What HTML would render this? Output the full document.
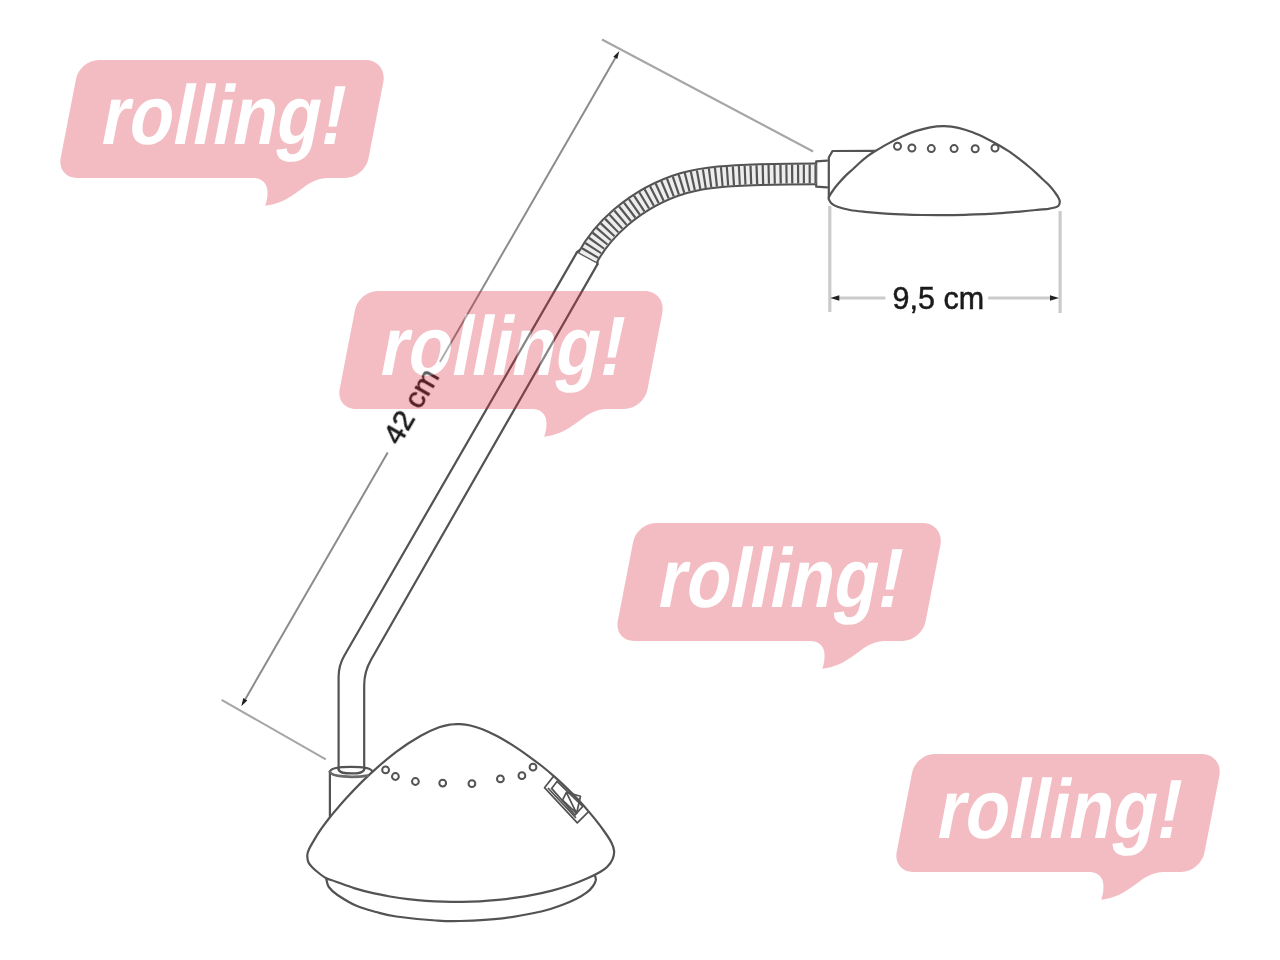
<!DOCTYPE html>
<html><head><meta charset="utf-8"><title>lamp</title>
<style>
html,body{margin:0;padding:0;background:#fff;}
body{width:1280px;height:960px;overflow:hidden;position:relative;font-family:"Liberation Sans",sans-serif;}
svg{position:absolute;left:0;top:0;display:block;}
text{font-family:"Liberation Sans",sans-serif;}
</style></head><body>
<svg width="1280" height="960" viewBox="0 0 1280 960">
<defs><filter id="b" filterUnits="userSpaceOnUse" x="0" y="0" width="1280" height="960"><feGaussianBlur stdDeviation="0.7"/></filter></defs>
<rect width="1280" height="960" fill="#fff"/>
<g fill="none" stroke="#525252" stroke-width="2.2" stroke-linecap="round" stroke-linejoin="round" filter="url(#b)">
<path d="M307.3,855.2 C307.4,853.0 308.0,851.4 309.1,849.0 C310.2,846.6 311.8,843.9 313.8,840.6 C315.7,837.3 318.1,833.3 321.0,829.2 C323.9,825.1 326.7,821.2 330.9,816.0 C335.2,810.8 340.0,804.9 346.4,797.9 C352.9,791.0 361.4,782.0 369.7,774.4 C378.0,766.7 387.7,758.2 396.2,751.8 C404.7,745.4 413.6,739.8 420.8,735.7 C428.0,731.6 434.1,729.2 439.1,727.3 C444.2,725.5 447.3,725.1 450.9,724.5 C454.4,724.0 457.0,724.0 460.2,724.2 C463.5,724.4 466.6,724.7 470.3,725.5 C474.0,726.4 477.9,727.5 482.4,729.2 C486.8,731.0 491.9,733.3 496.9,735.9 C501.9,738.5 507.3,741.8 512.5,745.1 C517.7,748.4 523.1,752.2 528.1,755.8 C533.1,759.4 537.9,763.0 542.4,766.5 C546.8,770.0 550.6,773.2 554.7,776.9 C558.8,780.5 563.0,784.5 567.0,788.4 C571.0,792.3 575.0,796.4 578.5,800.1 C582.0,803.9 584.9,807.1 587.9,810.6 C590.9,814.1 593.8,817.5 596.6,821.1 C599.4,824.6 602.2,828.4 604.7,832.0 C607.2,835.6 609.9,839.5 611.5,842.7 C613.1,845.9 613.9,848.2 614.1,851.0 C614.3,853.8 613.6,856.8 612.5,859.4 C611.4,862.0 609.3,864.7 607.3,866.7 C605.3,868.8 603.7,869.8 600.5,871.7 C597.3,873.6 593.1,875.8 588.0,878.0 C582.9,880.3 576.0,883.1 570.0,885.2 C564.0,887.2 558.0,889.0 552.0,890.6 C546.0,892.1 540.0,893.5 534.0,894.7 C528.0,895.9 522.0,896.9 516.0,897.7 C510.0,898.6 504.0,899.3 498.0,899.9 C492.0,900.5 486.0,901.0 480.0,901.3 C474.0,901.6 468.0,901.8 462.0,901.9 C456.0,902.0 450.0,901.9 444.0,901.7 C438.0,901.5 432.0,901.2 426.0,900.8 C420.0,900.4 414.0,899.8 408.0,899.1 C402.0,898.4 396.0,897.5 390.0,896.5 C384.0,895.4 378.0,894.3 372.0,892.9 C366.0,891.5 360.0,889.9 354.0,888.1 C348.0,886.2 340.6,883.3 336.0,881.7 C331.4,880.0 328.9,879.5 326.2,878.2 C323.6,876.9 322.3,875.8 320.0,874.0 C317.7,872.2 314.6,869.6 312.7,867.7 C310.8,865.8 309.4,864.6 308.5,862.5 C307.6,860.4 307.2,857.5 307.3,855.2"/>
<path d="M326.2,878.6 C326.7,880.0 326.9,884.3 328.8,887.0 C330.7,889.7 332.9,891.9 337.5,895.0 C342.1,898.1 350.0,903.0 356.4,905.8 C362.8,908.6 369.4,910.2 376.0,912.0 C382.6,913.8 386.2,915.1 396.2,916.5 C406.2,917.9 425.5,919.8 436.1,920.5 C446.7,921.2 448.9,921.4 460.0,921.0 C471.1,920.6 488.8,919.9 502.5,918.3 C516.2,916.7 532.4,913.4 542.3,911.2 C552.2,909.0 556.4,907.0 562.0,905.0 C567.6,903.0 571.9,901.0 576.0,899.0 C580.1,897.0 583.7,894.8 586.5,892.7 C589.3,890.6 591.2,888.6 592.7,886.5 C594.2,884.4 595.4,882.1 595.8,880.2 C596.1,878.3 595.0,875.9 594.8,875.0"/>
<path d="M329.9,771.5 L329.9,816.5"/>
<path d="M329.9,771.8 C330.5,767.6 343,766.8 351,766.8 C362,766.8 371.3,768.2 372,771.2"/>
<path d="M329.9,771.8 C331,776.6 352,778.2 367.5,775.6" stroke-width="2.8" stroke="#6a6a6a"/>
<path d="M338.6,769.5 C340,773.3 345,773.4 351.4,773.4 C358,773.4 363,773.3 364.2,769.5"/>
<path d="M338.6,769.5 L338.6,677 Q338.6,665.4 344.4,655.5 L576.9,252.4"/>
<path d="M364.2,769.5 L364.2,685 Q364.2,671.9 370.9,660 L597.5,264.1"/>
<path d="M576.9,252.4 C580,248.5 586,249 590,252 C595,255.5 598,260 597.5,264.1"/>
<path d="M828.9,197.2 C829.6,195.5 831.4,192.6 833.3,190.0 C835.1,187.4 837.8,184.3 840.0,181.7 C842.2,179.1 844.5,176.8 846.7,174.6 C848.9,172.4 851.1,170.8 853.3,168.8 C855.5,166.7 857.8,164.5 860.0,162.5 C862.2,160.5 864.4,158.7 866.7,156.9 C869.1,155.1 870.5,154.0 874.1,151.8 C877.7,149.6 883.5,146.1 888.1,143.6 C892.8,141.0 897.5,138.6 902.2,136.5 C906.9,134.3 911.6,132.4 916.3,130.9 C921.0,129.4 925.6,128.1 930.3,127.3 C935.0,126.5 939.7,126.1 944.4,126.2 C949.1,126.3 953.7,126.8 958.4,127.8 C963.1,128.9 967.9,130.5 972.6,132.3 C977.3,134.1 982.3,136.5 986.8,138.7 C991.3,140.9 995.8,143.4 999.8,145.7 C1003.7,148.0 1007.1,150.2 1010.4,152.3 C1013.6,154.5 1016.3,156.6 1019.2,158.8 C1022.0,160.9 1024.7,163.2 1027.5,165.5 C1030.3,167.8 1033.1,170.2 1035.7,172.6 C1038.3,175.0 1040.8,177.4 1043.2,179.7 C1045.6,181.9 1048.0,184.1 1050.0,186.2 C1052.0,188.4 1053.6,190.6 1055.0,192.5 C1056.4,194.4 1057.5,196.0 1058.3,197.5 C1059.1,199.0 1059.8,200.3 1059.8,201.7 C1059.8,203.0 1059.4,204.6 1058.6,205.6 C1057.8,206.6 1056.7,207.0 1055.0,207.5 C1053.3,208.0 1051.5,208.3 1048.3,208.8 C1045.1,209.2 1040.1,209.6 1035.8,210.0 C1031.5,210.4 1027.1,210.9 1022.3,211.3 C1017.4,211.8 1012.2,212.3 1006.7,212.7 C1001.2,213.2 995.5,213.5 989.2,213.9 C982.9,214.2 976.1,214.4 968.8,214.6 C961.4,214.9 952.7,215.0 945.0,215.1 C937.3,215.2 929.6,215.1 922.5,215.0 C915.4,214.9 909.1,214.7 902.5,214.4 C895.8,214.1 888.7,213.8 882.5,213.3 C876.2,212.9 870.4,212.4 865.0,211.8 C859.6,211.3 854.6,210.9 850.0,210.0 C845.4,209.1 840.6,207.8 837.5,206.7 C834.4,205.6 832.8,204.4 831.4,203.3 C830.0,202.2 829.6,201.0 829.2,200.0 C828.8,199.0 828.2,198.9 828.9,197.2"/>
<path d="M828.8,197 L828.8,157.5 L832.5,151 L875,150.9"/>
<path d="M816.2,161.3 L827,160.6 M816.2,186.7 L827,187.4 M816.2,161.3 L816.2,186.7"/>
</g>
<g fill="none" stroke="#525252" stroke-width="2" filter="url(#b)">
<circle cx="897.5" cy="146.3" r="3.5"/>
<circle cx="911.9" cy="148" r="3.5"/>
<circle cx="931.3" cy="148.6" r="3.5"/>
<circle cx="954.1" cy="148.6" r="3.5"/>
<circle cx="975.2" cy="148.8" r="3.5"/>
<circle cx="995" cy="148" r="3.5"/>
<circle cx="385.6" cy="769.9" r="3.4"/>
<circle cx="395.4" cy="776.5" r="3.4"/>
<circle cx="415.4" cy="781.5" r="3.4"/>
<circle cx="442.7" cy="783.1" r="3.4"/>
<circle cx="471.9" cy="783.7" r="3.4"/>
<circle cx="500.4" cy="778.9" r="3.4"/>
<circle cx="521.9" cy="775.7" r="3.4"/>
<circle cx="533" cy="767.2" r="3.4"/>
</g>
<g fill="none" stroke="#525252" stroke-width="1.7" stroke-linejoin="round" filter="url(#b)">
<path d="M553.9,775.9 L544.5,787.7 L577.3,822.8 L589.1,811.1"/>
<path d="M557,781.4 L551.6,788.4 L575,815 L582.8,806.4 Z"/>
<path d="M566.4,792.3 L580.5,796.25 L576.6,813.4 L562.5,800.2 Z M566.4,792.3 L576.6,813.4 M548,788 L576,818"/>
</g>
<g fill="none" filter="url(#b)">
<path d="M587.2,258.3 C596,242 606,230 620.9,217.3 C640,201 660,190 684,183 C706,176.8 730,175.6 760,174.6 C785,174 800,173.9 816.2,173.9" stroke="#525252" stroke-width="22.9"/>
<path d="M587.2,258.3 C596,242 606,230 620.9,217.3 C640,201 660,190 684,183 C706,176.8 730,175.6 760,174.6 C785,174 800,173.9 816.2,173.9" stroke="#ededed" stroke-width="18.9"/>
<path d="M587.2,258.3 C596,242 606,230 620.9,217.3 C640,201 660,190 684,183 C706,176.8 730,175.6 760,174.6 C785,174 800,173.9 816.2,173.9" stroke="#555" stroke-width="18.9" stroke-dasharray="2.2 3.66" stroke-dashoffset="1"/>
</g>
<g fill="none" stroke="#cbcbcb" stroke-width="3.2" filter="url(#b)">
<path d="M829.8,206 L829.8,312 M1060.1,211 L1060.1,313"/>
<path d="M839,298 L885.4,298 M988.2,298 L1050,298"/>
</g>
<g fill="#222" filter="url(#b)"><path d="M830.3,298.0 L839.3,295.2 L839.3,300.8 Z M1059.0,298.0 L1050.0,300.8 L1050.0,295.2 Z"/></g>
<g fill="none" stroke="#a6a6a6" stroke-width="2.1" filter="url(#b)">
<path d="M602,39.5 L813.1,151.5 M221.6,699.8 L325.8,759.4"/>
</g>
<g fill="none" stroke="#8c8c8c" stroke-width="2" filter="url(#b)">
<path d="M243.3,702.7 L387.7,452.5 M439.9,362 L617.3,54.5"/>
</g>
<g fill="#222" filter="url(#b)"><path d="M241.3,706.2 L243.3,698.1 L247.3,700.4 Z M619.3,51.0 L617.3,59.1 L613.3,56.8 Z"/></g>
<g filter="url(#b)" fill="#1a1a1a" stroke="#1a1a1a" stroke-width="0.5">
<text x="938.3" y="308.6" font-size="30.5" text-anchor="middle">9,5 cm</text>
<text transform="translate(410.2,405.8) rotate(-60)" x="0" y="10.8" font-size="30" text-anchor="middle">42 cm</text>
</g>
<g transform="translate(0,0)" opacity="0.3"><path d="M250,176 L253.9,177.9 C260,178 265.5,181.5 267,188 C268,193.5 267.5,199 265.2,205.8 C278,204.3 288.5,198.6 297,192.2 C306.5,185 314,178.8 327,177.9 L330,176 Z" fill="#da2638"/><g transform="translate(0,143.9) skewX(-11)"><path d="M82.4,-83.9 L349.3,-83.9 C361.4506,-83.9 371.3,-74.0506 371.3,-61.900000000000006 L371.3,14.5 C371.3,25.269849999999998 362.56985000000003,34.0 351.8,34.0 L83.4,34.0 C72.35400000000001,34.0 63.4,25.046 63.4,14.0 L63.4,-64.9 C63.4,-75.39370000000001 71.9063,-83.9 82.4,-83.9 Z" fill="#da2638"/><text x="97.9" y="0" font-size="84" font-weight="bold" fill="#fff" textLength="243.2" lengthAdjust="spacingAndGlyphs">rolling!</text></g></g>
<g transform="translate(279,231)" opacity="0.3"><path d="M250,176 L253.9,177.9 C260,178 265.5,181.5 267,188 C268,193.5 267.5,199 265.2,205.8 C278,204.3 288.5,198.6 297,192.2 C306.5,185 314,178.8 327,177.9 L330,176 Z" fill="#da2638"/><g transform="translate(0,143.9) skewX(-11)"><path d="M82.4,-83.9 L349.3,-83.9 C361.4506,-83.9 371.3,-74.0506 371.3,-61.900000000000006 L371.3,14.5 C371.3,25.269849999999998 362.56985000000003,34.0 351.8,34.0 L83.4,34.0 C72.35400000000001,34.0 63.4,25.046 63.4,14.0 L63.4,-64.9 C63.4,-75.39370000000001 71.9063,-83.9 82.4,-83.9 Z" fill="#da2638"/><text x="97.9" y="0" font-size="84" font-weight="bold" fill="#fff" textLength="243.2" lengthAdjust="spacingAndGlyphs">rolling!</text></g></g>
<g transform="translate(557.1,463)" opacity="0.3"><path d="M250,176 L253.9,177.9 C260,178 265.5,181.5 267,188 C268,193.5 267.5,199 265.2,205.8 C278,204.3 288.5,198.6 297,192.2 C306.5,185 314,178.8 327,177.9 L330,176 Z" fill="#da2638"/><g transform="translate(0,143.9) skewX(-11)"><path d="M82.4,-83.9 L349.3,-83.9 C361.4506,-83.9 371.3,-74.0506 371.3,-61.900000000000006 L371.3,14.5 C371.3,25.269849999999998 362.56985000000003,34.0 351.8,34.0 L83.4,34.0 C72.35400000000001,34.0 63.4,25.046 63.4,14.0 L63.4,-64.9 C63.4,-75.39370000000001 71.9063,-83.9 82.4,-83.9 Z" fill="#da2638"/><text x="97.9" y="0" font-size="84" font-weight="bold" fill="#fff" textLength="243.2" lengthAdjust="spacingAndGlyphs">rolling!</text></g></g>
<g transform="translate(836,694)" opacity="0.3"><path d="M250,176 L253.9,177.9 C260,178 265.5,181.5 267,188 C268,193.5 267.5,199 265.2,205.8 C278,204.3 288.5,198.6 297,192.2 C306.5,185 314,178.8 327,177.9 L330,176 Z" fill="#da2638"/><g transform="translate(0,143.9) skewX(-11)"><path d="M82.4,-83.9 L349.3,-83.9 C361.4506,-83.9 371.3,-74.0506 371.3,-61.900000000000006 L371.3,14.5 C371.3,25.269849999999998 362.56985000000003,34.0 351.8,34.0 L83.4,34.0 C72.35400000000001,34.0 63.4,25.046 63.4,14.0 L63.4,-64.9 C63.4,-75.39370000000001 71.9063,-83.9 82.4,-83.9 Z" fill="#da2638"/><text x="97.9" y="0" font-size="84" font-weight="bold" fill="#fff" textLength="243.2" lengthAdjust="spacingAndGlyphs">rolling!</text></g></g>
</svg>
</body></html>
